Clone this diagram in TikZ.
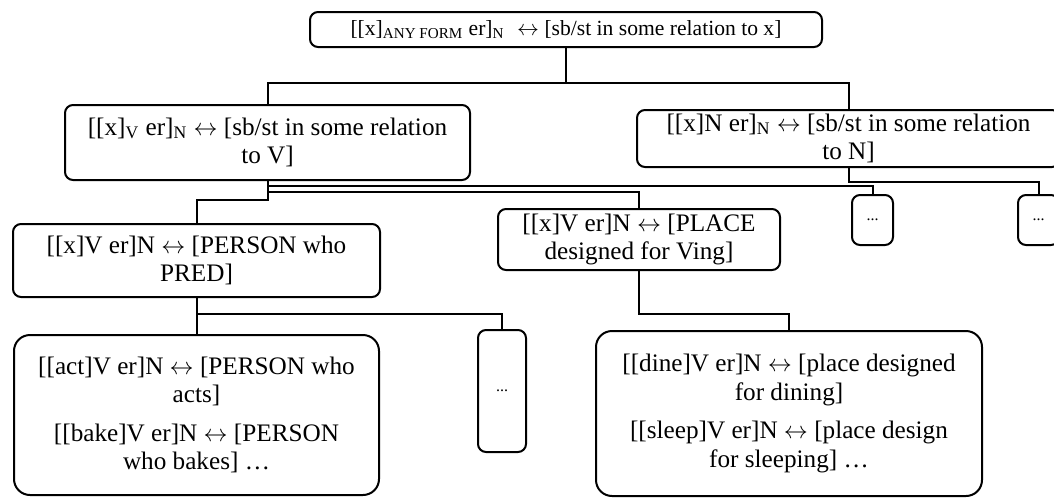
\documentclass[tikz,border=0pt]{standalone}
\usepackage{fontspec}
\setmainfont{Liberation Serif}
\newcommand{\lra}{\ensuremath{\leftrightarrow}}
\begin{document}
\begin{tikzpicture}[x=0.5pt,y=-0.5pt,
   cbox/.style={draw,line width=1pt,rounded corners=4pt,align=center,
      inner sep=0pt,font=\fontsize{12.6}{14.2}\selectfont},
   bigbox/.style={cbox,rounded corners=8pt},
   dotbox/.style={cbox,font=\footnotesize},
   link/.style={line width=1pt}]
   \clip (0,0) rectangle (1054,498);

   \node[cbox,minimum width=256pt,minimum height=17.5pt,font=\fontsize{10.8}{13}\selectfont] (top) at (566,29.5)
      {[[x]\textsubscript{ANY FORM} er]\textsubscript{N}\,\, \lra{} [sb/st in some relation to x]};

   \node[cbox,minimum width=202.5pt,minimum height=37.5pt] (V) at (267.5,142.5)
      {[[x]\textsubscript{V} er]\textsubscript{N} \lra{} [sb/st in some relation\\ to V]};
   \node[cbox,minimum width=211.5pt,minimum height=28.5pt] (N) at (848.5,138.5)
      {[[x]N er]\textsubscript{N} \lra{} [sb/st in some relation\\ to N]};

   \node[cbox,minimum width=183.5pt,minimum height=36.5pt] (person) at (196.5,260.5)
      {[[x]V er]N \lra{} [PERSON who\\ PRED]};
   \node[cbox,minimum width=141pt,minimum height=30.5pt] (place) at (639,239.5)
      {[[x]V er]N \lra{} [PLACE\\ designed for Ving]};
   \node[dotbox,minimum width=20.5pt,minimum height=25pt] (dots1) at (872.5,220) {...};
   \node[dotbox,minimum width=20.5pt,minimum height=25pt] (dots2) at (1038.5,220) {...};

   \node[bigbox,minimum width=182.5pt,minimum height=80pt] (act) at (196.5,415)
      {[[act]V er]N \lra{} [PERSON who\\ acts]\\[5pt]
       [[bake]V er]N \lra{} [PERSON\\ who bakes] …};
   \node[dotbox,minimum width=24pt,minimum height=61pt] (dots3) at (502,391) {...};
   \node[bigbox,minimum width=193pt,minimum height=82.5pt] (dine) at (789,413.5)
      {[[dine]V er]N \lra{} [place designed\\ for dining]\\[5pt]
       [[sleep]V er]N \lra{} [place design\\ for sleeping] …};

   % links
   \draw[link] (top.south) -- ++(0,35) -| (V.north);
   \draw[link] (top.south) -- ++(0,35) -| (N.north);
   \draw[link] (V.south) -- ++(0,5) -| (dots1.north);
   \draw[link] (V.south) -- ++(0,11) -| (place.north);
   \draw[link] (V.south) -- ++(0,19) -| (person.north);
   \draw[link] (N.south) -- ++(0,14) -| (dots2.north);
   \draw[link] (person.south) -- (act.north);
   \draw[link] (person.south) -- ++(0,16) -| (dots3.north);
   \draw[link] (place.south) -- ++(0,43) -| (dine.north);
\end{tikzpicture}
\end{document}
